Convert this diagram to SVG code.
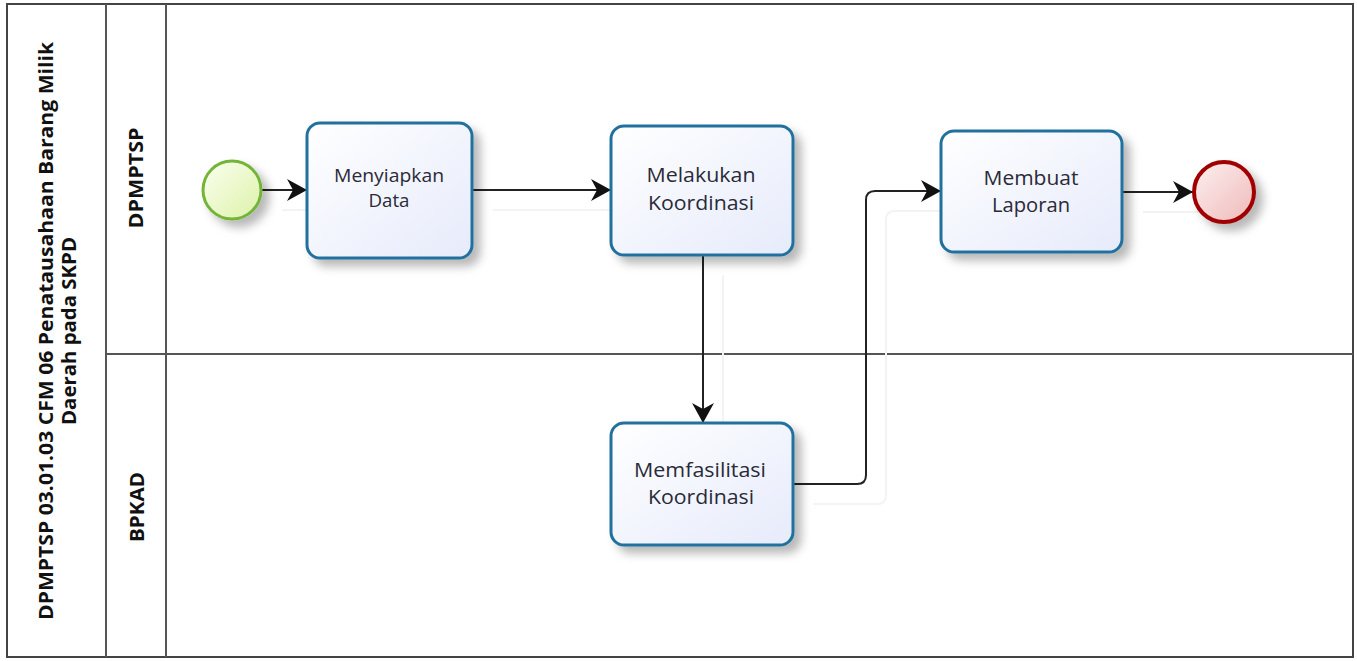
<svg xmlns="http://www.w3.org/2000/svg" width="1357" height="661" viewBox="0 0 1357 661">
<style>
.lane{fill:none;stroke:#555;stroke-width:2}
.hdr{font-family:"Open Sans","Noto Sans","Liberation Sans",sans-serif;font-weight:bold;fill:#111}
.task rect{fill:url(#taskFill);stroke:#21709e;stroke-width:3}
.tt{font-family:"Open Sans","Noto Sans","Liberation Sans",sans-serif;fill:#2a2a38;text-anchor:middle}
.flow{fill:none;stroke:#222;stroke-width:2}
.ghost{fill:none;stroke:#f3f3f3;stroke-width:2}
</style>
<defs>
<linearGradient id="taskFill" x1="0" y1="0" x2="1" y2="1">
<stop offset="0" stop-color="#ffffff"/>
<stop offset="1" stop-color="#e6ebfb"/>
</linearGradient>
<linearGradient id="startFill" x1="0" y1="0" x2="1" y2="1">
<stop offset="0" stop-color="#fbfff0"/>
<stop offset="1" stop-color="#dcf2a8"/>
</linearGradient>
<linearGradient id="endFill" x1="0" y1="0" x2="1" y2="1">
<stop offset="0" stop-color="#fdf0f0"/>
<stop offset="1" stop-color="#efb9b9"/>
</linearGradient>
<filter id="sh" x="-20%" y="-20%" width="150%" height="150%">
<feDropShadow dx="7" dy="7" stdDeviation="5" flood-color="#000" flood-opacity="0.28"/>
</filter>
<marker id="arr" markerUnits="userSpaceOnUse" markerWidth="24" markerHeight="26" refX="21" refY="12" orient="auto">
<path d="M21,12 L1,1 L7,12 L1,23 Z" fill="#111"/>
</marker>
</defs>
<rect x="0" y="0" width="1357" height="661" fill="#fff"/>
<g id="pool">
<rect class="lane" x="7" y="4" width="1346" height="653" style="stroke:#444"/>
<line class="lane" x1="106" y1="4" x2="106" y2="657"/>
<line class="lane" x1="166" y1="4" x2="166" y2="657"/>
<line class="lane" x1="106" y1="354" x2="1353" y2="354"/>
<text class="hdr" font-size="19" transform="translate(53,331) rotate(-90)" text-anchor="middle" textLength="578" lengthAdjust="spacingAndGlyphs">DPMPTSP 03.01.03 CFM 06 Penatausahaan Barang Milik</text>
<text class="hdr" font-size="19" transform="translate(76,331) rotate(-90)" text-anchor="middle" textLength="188" lengthAdjust="spacingAndGlyphs">Daerah pada SKPD</text>
</g>
<g id="lane-dpmptsp">
<text class="hdr" font-size="19" transform="translate(143,178) rotate(-90)" text-anchor="middle" textLength="101" lengthAdjust="spacingAndGlyphs">DPMPTSP</text>
</g>
<g id="lane-bpkad">
<text class="hdr" font-size="19" transform="translate(144,507) rotate(-90)" text-anchor="middle" textLength="70" lengthAdjust="spacingAndGlyphs">BPKAD</text>
</g>
<g id="connectors">
<path class="ghost" d="M282,210 H327"/>
<path class="ghost" d="M493,210 H631"/>
<path class="ghost" d="M723,275 V443"/>
<path class="ghost" d="M813,504 H877 Q886,504 886,495 V220 Q886,211 895,211 H961"/>
<path class="ghost" d="M1143,212 H1213"/>
<path class="flow" d="M262,190 H307" marker-end="url(#arr)"/>
<path class="flow" d="M473,190 H611" marker-end="url(#arr)"/>
<path class="flow" d="M703,255 V423" marker-end="url(#arr)"/>
<path class="flow" d="M793,484 H857 Q866,484 866,475 V200 Q866,191 875,191 H941" marker-end="url(#arr)"/>
<path class="flow" d="M1123,192 H1193" marker-end="url(#arr)"/>
</g>
<g id="start">
<circle cx="232" cy="190" r="29" fill="url(#startFill)" stroke="#74b43a" stroke-width="3" filter="url(#sh)"/>
</g>
<g id="menyiapkan-data" class="task">
<rect x="307" y="123" width="165" height="135" rx="13" filter="url(#sh)"/>
<text class="tt" font-size="18" x="389" y="182" textLength="110" lengthAdjust="spacingAndGlyphs">Menyiapkan</text>
<text class="tt" font-size="18" x="389" y="207" textLength="41" lengthAdjust="spacingAndGlyphs">Data</text>
</g>
<g id="melakukan-koordinasi" class="task">
<rect x="611" y="126" width="182" height="129" rx="13" filter="url(#sh)"/>
<text class="tt" font-size="20" x="701" y="182" textLength="109" lengthAdjust="spacingAndGlyphs">Melakukan</text>
<text class="tt" font-size="20" x="701" y="210" textLength="106" lengthAdjust="spacingAndGlyphs">Koordinasi</text>
</g>
<g id="membuat-laporan" class="task">
<rect x="941" y="131" width="181" height="121" rx="13" filter="url(#sh)"/>
<text class="tt" font-size="20" x="1031" y="185" textLength="95" lengthAdjust="spacingAndGlyphs">Membuat</text>
<text class="tt" font-size="20" x="1031" y="212" textLength="78" lengthAdjust="spacingAndGlyphs">Laporan</text>
</g>
<g id="memfasilitasi-koordinasi" class="task">
<rect x="611" y="423" width="182" height="122" rx="13" filter="url(#sh)"/>
<text class="tt" font-size="20" x="700" y="477" textLength="132" lengthAdjust="spacingAndGlyphs">Memfasilitasi</text>
<text class="tt" font-size="20" x="701" y="504" textLength="106" lengthAdjust="spacingAndGlyphs">Koordinasi</text>
</g>
<g id="end">
<circle cx="1224" cy="192" r="30" fill="url(#endFill)" stroke="#a00000" stroke-width="4" filter="url(#sh)"/>
</g>
</svg>
